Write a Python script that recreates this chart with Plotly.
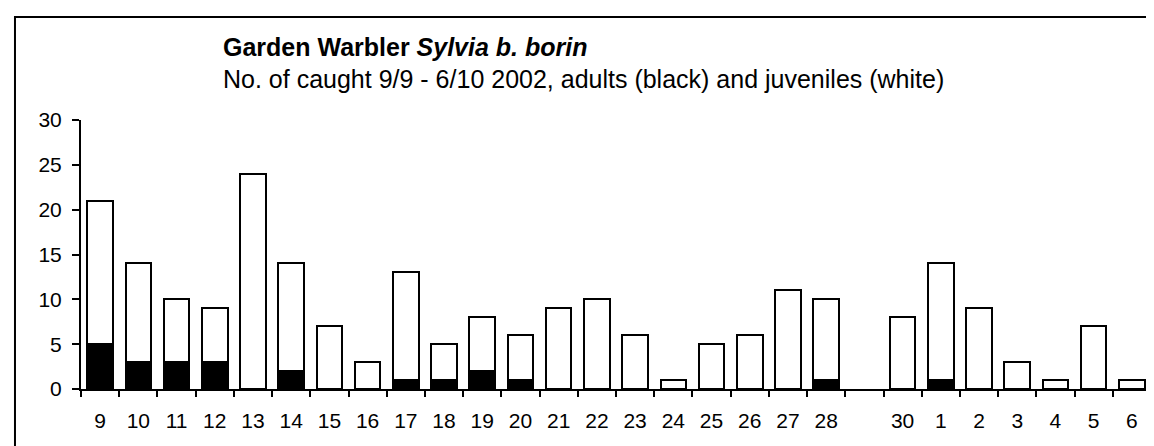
import plotly.graph_objects as go

# days from 9 Sept to 6 Oct 2002; the slot after 28 has no label and no catch
days = ["9", "10", "11", "12", "13", "14", "15", "16", "17", "18", "19", "20",
        "21", "22", "23", "24", "25", "26", "27", "28", " ", "30",
        "1", "2", "3", "4", "5", "6"]
total = [21, 14, 10, 9, 24, 14, 7, 3, 13, 5, 8, 6,
         9, 10, 6, 1, 5, 6, 11, 10, None, 8,
         14, 9, 3, 1, 7, 1]
adults = [5, 3, 3, 3, 0, 2, 0, 0, 1, 1, 2, 1,
          0, 0, 0, 0, 0, 0, 0, 1, None, 0,
          1, 0, 0, 0, 0, 0]
juveniles = [None if t is None else t - a for t, a in zip(total, adults)]

FONT = "Liberation Sans, Arial, sans-serif"

fig = go.Figure()
fig.add_trace(go.Bar(
    x=days, y=adults, name="adults",
    marker=dict(color="black", line=dict(color="black", width=2)),
))
fig.add_trace(go.Bar(
    x=days, y=juveniles, name="juveniles",
    marker=dict(color="white", line=dict(color="black", width=2)),
))

fig.update_layout(
    barmode="stack",
    bargap=0.33,
    width=1154, height=446,
    showlegend=False,
    paper_bgcolor="white",
    plot_bgcolor="white",
    font=dict(family=FONT, size=21, color="black"),
    margin=dict(l=73, r=11, t=112, b=65, autoexpand=False),
)
fig.update_xaxes(
    type="category",
    categoryorder="array", categoryarray=days,
    showline=True, linecolor="black", linewidth=2,
    ticks="outside", tickson="boundaries", ticklen=6, tickwidth=2, tickcolor="black",
    ticklabelstandoff=12,
    showgrid=False, zeroline=False,
)
fig.update_yaxes(
    range=[0, 30], dtick=5,
    showline=True, linecolor="black", linewidth=2,
    ticks="outside", ticklen=7, tickwidth=2, tickcolor="black",
    ticklabelstandoff=6,
    showgrid=False, zeroline=False,
)

# chart border (runs off the right and bottom edges)
fig.add_shape(type="rect", xref="paper", yref="paper",
              x0=-0.0617, x1=1.2, y0=-0.4, y1=1.383,
              line=dict(color="black", width=2), fillcolor="rgba(0,0,0,0)")

fig.add_annotation(
    xref="paper", yref="paper", x=0.1308, y=1.271,
    xanchor="left", yanchor="middle", showarrow=False,
    text="<b>Garden Warbler <i>Sylvia b. borin</i></b>",
    font=dict(family=FONT, size=25, color="black"),
)
fig.add_annotation(
    xref="paper", yref="paper", x=0.1308, y=1.152,
    xanchor="left", yanchor="middle", showarrow=False,
    text="No. of caught 9/9 - 6/10 2002, adults (black) and juveniles (white)",
    font=dict(family=FONT, size=25, color="black"),
)

fig.write_html("out.html")
